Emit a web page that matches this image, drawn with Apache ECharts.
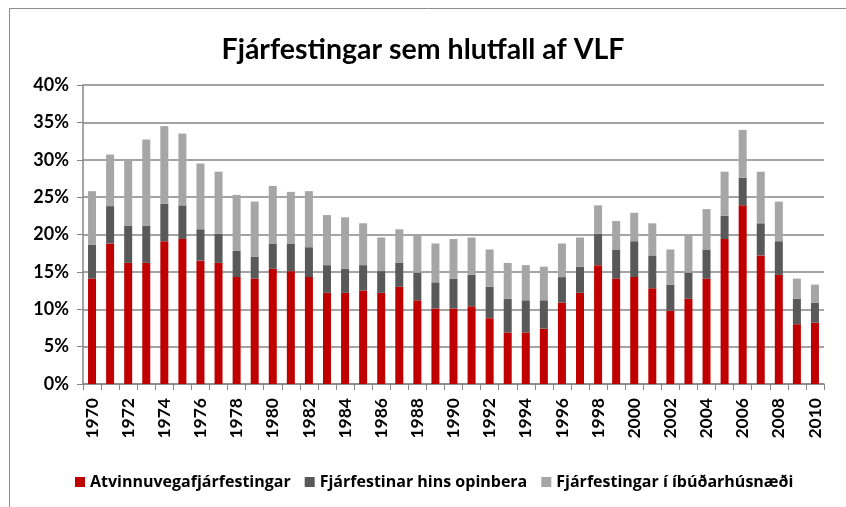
<!DOCTYPE html>
<html>
<head>
<meta charset="utf-8">
<script src="https://cdn.jsdelivr.net/npm/echarts@6/dist/echarts.min.js"></script>
<style>
  html, body { margin: 0; padding: 0; background: #fff; }
  #chart { width: 846px; height: 507px; }
</style>
</head>
<body>
<div id="chart"></div>
<script>
// ár
var years = [];
for (var y = 1970; y <= 2010; y++) years.push(String(y));

// hlutfall af VLF, % (lesið af mynd)
var atvinnuvegir = [14.1, 18.8, 16.2, 16.2, 19.1, 19.4, 16.5, 16.2, 14.3, 14.1,
  15.4, 15.1, 14.3, 12.2, 12.2, 12.5, 12.2, 13.0, 11.2, 10.1,
  10.1, 10.4, 8.8, 6.9, 6.9, 7.4, 10.9, 12.2, 15.9, 14.1,
  14.3, 12.8, 9.8, 11.4, 14.1, 19.4, 23.9, 17.2, 14.6, 8.0, 8.2];
var opinbert = [4.5, 5.0, 5.0, 5.0, 5.0, 4.5, 4.2, 3.9, 3.5, 2.9,
  3.4, 3.7, 4.0, 3.7, 3.2, 3.4, 2.9, 3.2, 3.7, 3.5,
  4.0, 4.2, 4.2, 4.5, 4.3, 3.8, 3.4, 3.5, 4.2, 3.9,
  4.8, 4.4, 3.5, 3.5, 3.9, 3.1, 3.7, 4.3, 4.5, 3.4, 2.7];
var ibudir = [7.2, 6.9, 8.8, 11.5, 10.4, 9.6, 8.8, 8.3, 7.5, 7.4,
  7.7, 6.9, 7.5, 6.7, 6.9, 5.6, 4.5, 4.5, 5.0, 5.2,
  5.3, 5.0, 5.0, 4.8, 4.7, 4.5, 4.5, 3.9, 3.8, 3.8,
  3.8, 4.3, 4.7, 5.0, 5.4, 5.9, 6.4, 6.9, 5.3, 2.7, 2.4];

var seriesNames = ['Atvinnuvegafjárfestingar', 'Fjárfestinar hins opinbera', 'Fjárfestingar í íbúðarhúsnæði'];
var colors = ['#C00000', '#595959', '#A6A6A6'];

var font = 'Lato, "Open Sans", sans-serif';
var chart = echarts.init(document.getElementById('chart'));

function mkSeries(i, data) {
  return {
    name: seriesNames[i],
    type: 'bar',
    stack: 'vlf',
    barWidth: 8,
    data: data,
    itemStyle: { color: colors[i] }
  };
}

var option = {
  animation: false,
  color: colors,
  graphic: [{
    type: 'rect',
    shape: { x: 9.5, y: 8.5, width: 900, height: 600 },
    style: { fill: 'none', stroke: '#8c8c8c', lineWidth: 1 }
  }],
  title: {
    text: 'Fjárfestingar sem hlutfall af VLF',
    left: 'center',
    top: 30,
    textStyle: { fontFamily: font, fontWeight: 'bold', fontSize: 28.5, color: '#000' }
  },
  legend: {
    left: 70,
    top: 469,
    icon: 'rect',
    itemWidth: 10,
    itemHeight: 10,
    itemGap: 14,
    textStyle: { fontFamily: '"Open Sans", sans-serif', fontWeight: 'bold', fontSize: 16, color: '#000' }
  },
  grid: { left: 83, right: 22, top: 85, bottom: 123 },
  xAxis: {
    type: 'category',
    data: years,
    axisLine: { lineStyle: { color: '#868686', width: 1.5 } },
    axisTick: { show: true, length: 6, interval: 0, lineStyle: { color: '#868686' } },
    axisLabel: {
      interval: 1, rotate: 90, margin: 14,
      fontFamily: font, fontWeight: 'bold', fontSize: 17.5, color: '#000'
    }
  },
  yAxis: {
    type: 'value',
    min: 0, max: 40, interval: 5,
    axisLine: { show: true, lineStyle: { color: '#868686', width: 1.5 } },
    axisTick: { show: true, length: 6, lineStyle: { color: '#868686' } },
    splitLine: { lineStyle: { color: '#868686', width: 1.5 } },
    axisLabel: {
      margin: 14,
      formatter: function (v) { return v + '%'; },
      fontFamily: font, fontWeight: 'bold', fontSize: 18, color: '#000'
    }
  },
  series: [mkSeries(0, atvinnuvegir), mkSeries(1, opinbert), mkSeries(2, ibudir)]
};
chart.setOption(option);
</script>
</body>
</html>
